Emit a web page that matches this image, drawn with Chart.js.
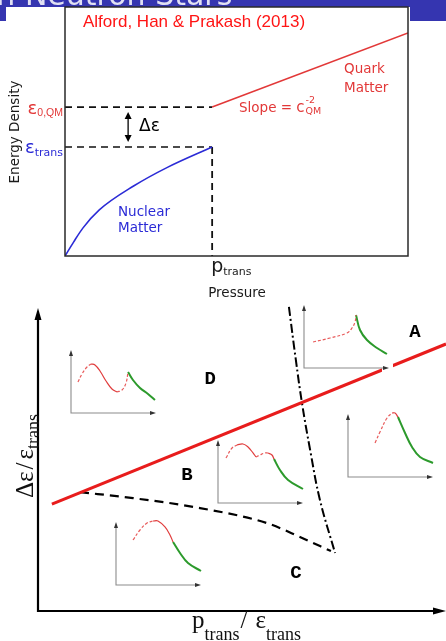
<!DOCTYPE html>
<html>
<head>
<meta charset="utf-8">
<script src="https://cdn.jsdelivr.net/npm/chart.js@4.4.1/dist/chart.umd.min.js"></script>
<style>
  html, body { margin: 0; padding: 0; background: #fff; }
  #page { position: relative; width: 446px; height: 641px; overflow: hidden; background: #fff; }
  #banner { position: absolute; left: 0; top: 0; width: 446px; height: 21px; background: #3535b0; }
  #sheet { position: absolute; left: 6px; top: 7px; width: 404px; height: 634px; background: #fff; }
  canvas { position: absolute; }
</style>
</head>
<body>
<div id="page">
  <div id="banner"></div>
  <div id="sheet"></div>
  <canvas id="topChart" width="446" height="300" style="left:0;top:0"></canvas>
  <canvas id="phaseChart" width="446" height="341" style="left:0;top:300px"></canvas>
</div>
<script>
// top panel: energy density vs pressure (arbitrary units 0..10)
const nucPressure = [0, 0.25, 0.52, 1.0, 2.0, 3.0, 4.29];
const nucEnergy = [0, 0.56, 1.12, 1.85, 2.81, 3.57, 4.38];
const quarkPressure = [4.29, 10];
const quarkEnergy = [5.98, 8.96];
const pTrans = 4.29;
const epsTrans = 4.38;
const eps0QM = 5.98;

// bottom panel: phase diagram dEps/eps_trans vs p_trans/eps_trans
const stableX = [0.34, 10];
const stableY = [3.55, 8.87];
const connX = [1.03, 2.33, 3.97, 5.61, 6.42, 7.18];
const connY = [3.95, 3.75, 3.42, 2.92, 2.46, 1.99];
const maxMassX = [6.15, 6.32, 6.47, 6.67, 6.91, 7.28];
const maxMassY = [10.1, 8.34, 6.91, 5.35, 3.69, 1.93];
const regionNames = ['A', 'B', 'C', 'D'];
const regionX = [9.24, 3.65, 6.32, 4.22];
const regionY = [9.27, 4.52, 1.26, 7.71];

// small M(R) sketches, [x, y] in 0..10
const insetD_dash1 = [[0.82, 4.92], [1.29, 6.19], [1.88, 7.30], [2.35, 7.78]];
const insetD_red = [[2.35, 7.78], [2.82, 7.62], [3.41, 6.67], [4.12, 5.08], [4.82, 3.81], [5.41, 3.33]];
const insetD_dash2 = [[5.41, 3.33], [6.0, 3.65], [6.47, 4.76], [6.71, 6.51]];
const insetD_green = [[6.71, 6.51], [7.29, 5.24], [8.12, 3.97], [9.06, 3.02], [9.88, 2.06]];

const insetA_dash = [[1.06, 4.13], [3.06, 4.76], [5.06, 5.56], [5.65, 6.35], [6.0, 7.30], [6.12, 8.41]];
const insetA_green = [[6.12, 8.41], [6.59, 6.03], [7.41, 4.44], [8.59, 3.17], [9.76, 2.22]];

const insetR_dash = [[3.18, 5.40], [3.76, 7.14], [4.59, 9.37], [5.18, 10.16]];
const insetR_red = [[5.18, 10.16], [5.53, 10.16], [5.88, 9.52]];
const insetR_green = [[5.88, 9.52], [6.71, 6.98], [7.53, 4.76], [8.47, 3.17], [10.0, 2.22]];

const insetB_dash1 = [[0.94, 7.14], [1.65, 8.73], [2.24, 9.21]];
const insetB_red1 = [[2.24, 9.21], [2.94, 9.37], [3.53, 8.89], [4.12, 7.94], [4.47, 7.30]];
const insetB_dash2 = [[4.47, 7.30], [4.94, 7.62], [5.53, 7.94], [5.88, 7.94]];
const insetB_red2 = [[5.88, 7.94], [6.35, 7.62], [6.59, 6.98]];
const insetB_green = [[6.59, 6.98], [7.29, 5.24], [8.24, 3.65], [10.0, 2.22]];

const insetC_dash = [[2.0, 7.14], [2.82, 8.73], [3.65, 9.84], [4.35, 10.16]];
const insetC_red = [[4.35, 10.16], [4.94, 10.16], [5.76, 9.21], [6.35, 7.94], [6.71, 6.83]];
const insetC_green = [[6.71, 6.83], [7.53, 5.08], [8.47, 3.49], [10.0, 2.22]];

const toPoints = (xs, ys) => xs.map((x, i) => ({ x: x, y: ys[i] }));
const pairPoints = arr => arr.map(p => ({ x: p[0], y: p[1] }));

function arrowHead(ctx, x, y, dir, len, half) {
  ctx.beginPath();
  ctx.moveTo(x, y);
  if (dir === 'up') { ctx.lineTo(x - half, y + len); ctx.lineTo(x + half, y + len); }
  if (dir === 'down') { ctx.lineTo(x - half, y - len); ctx.lineTo(x + half, y - len); }
  if (dir === 'right') { ctx.lineTo(x - len, y - half); ctx.lineTo(x - len, y + half); }
  ctx.closePath();
  ctx.fill();
}

// draws a run of [text, font, dy, gap] pieces from x, returns end x
function drawRun(ctx, x, y, pieces) {
  pieces.forEach(p => {
    ctx.font = p[1];
    ctx.fillText(p[0], x, y + (p[2] || 0));
    x += ctx.measureText(p[0]).width + (p[3] || 0);
  });
  return x;
}
function runWidth(ctx, pieces) {
  let w = 0;
  pieces.forEach(p => { ctx.font = p[1]; w += ctx.measureText(p[0]).width + (p[3] || 0); });
  return w;
}

const sans = '"DejaVu Sans"';
const serif = '"Liberation Serif"';

const topDecor = {
  id: 'topDecor',
  afterDatasetsDraw(chart) {
    const ctx = chart.ctx;
    const a = chart.chartArea;
    const xs = chart.scales.x, ys = chart.scales.y;
    ctx.save();

    // slide title remains, mostly hidden by the pasted figure
    ctx.fillStyle = 'rgba(255,255,255,0.85)';
    ctx.font = '30px ' + sans;
    ctx.textBaseline = 'alphabetic';
    ctx.fillText('in Neutron Stars', -12, 5);

    ctx.strokeStyle = '#2a2a2a';
    ctx.lineWidth = 1.5;
    ctx.strokeRect(a.left, a.top, a.right - a.left, a.bottom - a.top);

    // delta epsilon double arrow
    const ax = xs.getPixelForValue(1.84);
    const y1 = ys.getPixelForValue(5.78), y2 = ys.getPixelForValue(4.58);
    ctx.strokeStyle = '#000';
    ctx.fillStyle = '#000';
    ctx.lineWidth = 1.3;
    ctx.beginPath();
    ctx.moveTo(ax, y1 + 4);
    ctx.lineTo(ax, y2 - 4);
    ctx.stroke();
    arrowHead(ctx, ax, y1, 'up', 7, 3.5);
    arrowHead(ctx, ax, y2, 'down', 7, 3.5);
    drawRun(ctx, 139, 131, [['Δε', '17px ' + sans]]);

    ctx.fillStyle = '#ff1414';
    drawRun(ctx, 83, 27, [['Alford, Han & Prakash (2013)', '17px "Liberation Sans"']]);

    ctx.fillStyle = '#e23838';
    drawRun(ctx, 344, 73, [['Quark', '13.5px ' + sans]]);
    drawRun(ctx, 344, 92, [['Matter', '13.5px ' + sans]]);
    const cx = drawRun(ctx, 239, 112, [['Slope = ', '13.5px ' + sans], ['c', '15px ' + sans, 0, 1]]);
    drawRun(ctx, cx, 103, [['-2', '9.5px ' + sans]]);
    drawRun(ctx, cx, 114, [['QM', '9.5px ' + sans]]);

    ctx.fillStyle = '#2b2bd6';
    drawRun(ctx, 118, 216, [['Nuclear', '13.5px ' + sans]]);
    drawRun(ctx, 118, 232, [['Matter', '13.5px ' + sans]]);

    // y tick labels
    const e0 = [['ε', '18px ' + sans], ['0,QM', '10.5px "Liberation Sans"', 2]];
    ctx.fillStyle = '#e23838';
    drawRun(ctx, 63 - runWidth(ctx, e0), ys.getPixelForValue(eps0QM) + 7, e0);
    const et = [['ε', '18px ' + sans], ['trans', '11px ' + sans, 3]];
    ctx.fillStyle = '#2b2bd6';
    drawRun(ctx, 63 - runWidth(ctx, et), ys.getPixelForValue(epsTrans) + 6, et);

    // x tick label and axis titles
    ctx.fillStyle = '#1a1a1a';
    drawRun(ctx, xs.getPixelForValue(pTrans) - 1, 272, [['p', '19px ' + sans], ['trans', '11px ' + sans, 3]]);
    ctx.font = '13.5px ' + sans;
    ctx.textAlign = 'center';
    ctx.fillText('Pressure', 237, 297);
    ctx.translate(19, 132);
    ctx.rotate(-Math.PI / 2);
    ctx.fillText('Energy Density', 0, 0);
    ctx.restore();
  }
};

new Chart(document.getElementById('topChart'), {
  type: 'scatter',
  data: {
    datasets: [
      {
        data: toPoints(nucPressure, nucEnergy),
        showLine: true,
        borderColor: '#2b2bd6',
        borderWidth: 1.6,
        cubicInterpolationMode: 'monotone',
      },
      {
        data: toPoints(quarkPressure, quarkEnergy),
        showLine: true,
        borderColor: '#e23838',
        borderWidth: 1.6,
      },
      {
        data: [{ x: 0, y: eps0QM }, { x: pTrans, y: eps0QM }],
        showLine: true, borderColor: '#111', borderWidth: 1.6, borderDash: [7, 5],
      },
      {
        data: [{ x: 0, y: epsTrans }, { x: pTrans, y: epsTrans }],
        showLine: true, borderColor: '#111', borderWidth: 1.6, borderDash: [7, 5],
      },
      {
        data: [{ x: pTrans, y: epsTrans }, { x: pTrans, y: 0 }],
        showLine: true, borderColor: '#111', borderWidth: 1.8, borderDash: [7, 5],
      },
    ],
  },
  options: {
    responsive: false,
    animation: false,
    layout: { padding: { left: 65, right: 38, top: 7, bottom: 44 } },
    elements: { point: { radius: 0 } },
    scales: {
      x: { type: 'linear', min: 0, max: 10, display: false },
      y: { type: 'linear', min: 0, max: 10, display: false },
    },
    plugins: { legend: { display: false }, tooltip: { enabled: false } },
  },
  plugins: [topDecor],
});

const phaseDecor = {
  id: 'phaseDecor',
  afterDatasetsDraw(chart) {
    const ctx = chart.ctx;
    const a = chart.chartArea;
    const xs = chart.scales.x, ys = chart.scales.y;
    ctx.save();
    ctx.strokeStyle = '#000';
    ctx.fillStyle = '#000';
    ctx.lineWidth = 2.2;
    ctx.beginPath();
    ctx.moveTo(a.left, a.top + 8);
    ctx.lineTo(a.left, a.bottom);
    ctx.lineTo(a.right - 10, a.bottom);
    ctx.stroke();
    arrowHead(ctx, a.left, a.top - 2, 'up', 12, 3.5);
    arrowHead(ctx, a.right, a.bottom, 'right', 13, 3.5);

    ctx.font = 'bold 19px "Liberation Mono"';
    ctx.textAlign = 'center';
    ctx.textBaseline = 'middle';
    regionNames.forEach((n, i) => {
      ctx.fillText(n, xs.getPixelForValue(regionX[i]), ys.getPixelForValue(regionY[i]));
    });

    ctx.textAlign = 'left';
    ctx.textBaseline = 'alphabetic';
    ctx.fillStyle = '#111';
    const main = '25px ' + serif, sub = '18px ' + serif;
    drawRun(ctx, 192, 328, [['p', main], ['trans', sub, 12, 1], ['/', main, 0, 8], ['ε', main], ['trans', sub, 12]]);

    // rotated y title, baseline on the right
    ctx.translate(33, 198);
    ctx.rotate(-Math.PI / 2);
    drawRun(ctx, 0, 0, [['Δε', main, 0, 2], ['/', main, 0, 3], ['ε', main], ['trans', sub, 6]]);
    ctx.restore();
  }
};

new Chart(document.getElementById('phaseChart'), {
  type: 'scatter',
  data: {
    datasets: [
      {
        data: toPoints(stableX, stableY),
        showLine: true, borderColor: '#e81c1c', borderWidth: 3, clip: false,
      },
      {
        data: toPoints(connX, connY),
        showLine: true, borderColor: '#000', borderWidth: 2.2, borderDash: [9, 6],
        cubicInterpolationMode: 'monotone', clip: false,
      },
      {
        data: toPoints(maxMassX, maxMassY),
        showLine: true, borderColor: '#000', borderWidth: 2, borderDash: [9, 3, 2, 3],
        tension: 0.4, clip: false,
      },
    ],
  },
  options: {
    responsive: false,
    animation: false,
    layout: { padding: { left: 38, right: 0, top: 10, bottom: 30 } },
    elements: { point: { radius: 0 } },
    scales: {
      x: { type: 'linear', min: 0, max: 10, display: false },
      y: { type: 'linear', min: 0, max: 10, display: false },
    },
    plugins: { legend: { display: false }, tooltip: { enabled: false } },
  },
  plugins: [phaseDecor],
});

// inset sketches
const segStyle = {
  dash: { borderColor: '#e85a5a', borderWidth: 1.2, borderDash: [3, 2] },
  red: { borderColor: '#e03c3c', borderWidth: 1.2 },
  green: { borderColor: '#2c9a2c', borderWidth: 2 },
};
const insets = [
  { left: 71, bottom: 413, segs: [[insetD_dash1, 'dash'], [insetD_red, 'red'], [insetD_dash2, 'dash'], [insetD_green, 'green']] },
  { left: 304, bottom: 368, knockout: true, segs: [[insetA_dash, 'dash'], [insetA_green, 'green']] },
  { left: 348, bottom: 477, segs: [[insetR_dash, 'dash'], [insetR_red, 'red'], [insetR_green, 'green']] },
  { left: 218, bottom: 503, segs: [[insetB_dash1, 'dash'], [insetB_red1, 'red'], [insetB_dash2, 'dash'], [insetB_red2, 'red'], [insetB_green, 'green']] },
  { left: 116, bottom: 585, segs: [[insetC_dash, 'dash'], [insetC_red, 'red'], [insetC_green, 'green']] },
];

const insetAxes = {
  id: 'insetAxes',
  beforeDatasetsDraw(chart, args, opts) {
    const ctx = chart.ctx;
    const a = chart.chartArea;
    ctx.save();
    if (opts.knockout) {
      // the pasted sketch hides the line under its arrow tip
      ctx.fillStyle = '#fff';
      ctx.fillRect(a.right - 7, a.bottom - 4, 11, 8);
    }
    ctx.strokeStyle = '#8c8c8c';
    ctx.lineWidth = 1.1;
    ctx.beginPath();
    ctx.moveTo(a.left, a.top + 3);
    ctx.lineTo(a.left, a.bottom);
    ctx.lineTo(a.right - 3, a.bottom);
    ctx.stroke();
    ctx.fillStyle = '#333';
    arrowHead(ctx, a.left, a.top, 'up', 6, 2);
    arrowHead(ctx, a.right, a.bottom, 'right', 6, 2);
    ctx.restore();
  }
};

const page = document.getElementById('page');
insets.forEach(inset => {
  const c = document.createElement('canvas');
  c.width = 97;
  c.height = 75;
  c.style.left = (inset.left - 6) + 'px';
  c.style.top = (inset.bottom - 63 - 6) + 'px';
  page.appendChild(c);
  new Chart(c, {
    type: 'scatter',
    data: {
      datasets: inset.segs.map(s => Object.assign({
        data: pairPoints(s[0]),
        showLine: true,
        tension: 0.4,
        clip: false,
      }, segStyle[s[1]])),
    },
    options: {
      responsive: false,
      animation: false,
      layout: { padding: 6 },
      elements: { point: { radius: 0 } },
      scales: {
        x: { type: 'linear', min: 0, max: 10, display: false },
        y: { type: 'linear', min: 0, max: 10, display: false },
      },
      plugins: {
        legend: { display: false },
        tooltip: { enabled: false },
        insetAxes: { knockout: !!inset.knockout },
      },
    },
    plugins: [insetAxes],
  });
});
</script>
</body>
</html>
